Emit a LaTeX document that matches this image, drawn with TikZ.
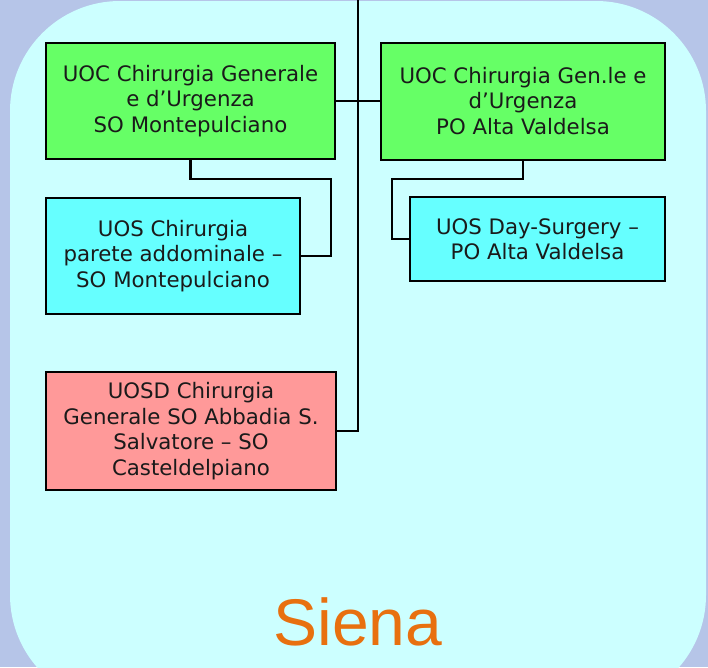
\documentclass[tikz,border=0pt]{standalone}
\usepackage{fontspec}
\setmainfont{DejaVu Sans}
\newfontfamily\sienafont{Liberation Sans}
\definecolor{lav}{HTML}{B6C5E8}
\definecolor{panel}{HTML}{CCFFFF}
\definecolor{gbox}{HTML}{66FF66}
\definecolor{cbox}{HTML}{66FFFF}
\definecolor{pbox}{HTML}{FF9999}
\definecolor{txt}{HTML}{1A1A1A}
\definecolor{orangetxt}{HTML}{E8700F}
\begin{document}
\begin{tikzpicture}[x=1pt,y=-1pt,
  unit/.style={draw=black,line width=2pt,text=txt,align=center,inner sep=0pt,
    font=\fontsize{21.3}{25.5}\selectfont},
  link/.style={draw=black,line width=2.2pt}]
\useasboundingbox (0,0) rectangle (708,667);
\fill[lav] (0,0) rectangle (708,667);
\begin{scope}
\clip (0,0) rectangle (708,667);
\fill[panel,rounded corners=110pt] (10,1) rectangle (706,705);
\end{scope}
\node[unit,fill=gbox,minimum width=289pt,minimum height=116pt] (g1) at (190.5,101) {UOC Chirurgia Generale\\e d’Urgenza\\SO Montepulciano};
\node[unit,fill=gbox,minimum width=284pt,minimum height=117pt] (g2) at (523,101) {UOC Chirurgia Gen.le e\\d’Urgenza\\PO Alta Valdelsa};
\node[unit,fill=cbox,minimum width=254pt,minimum height=116pt] (c1) at (173,256) {UOS Chirurgia\\parete addominale –\\SO Montepulciano};
\node[unit,fill=cbox,minimum width=255pt,minimum height=84pt] (c2) at (537.5,239) {UOS Day-Surgery –\\PO Alta Valdelsa};
\node[unit,fill=pbox,minimum width=290pt,minimum height=118pt] (p1) at (191,431) {UOSD Chirurgia\\Generale SO Abbadia S.\\Salvatore – SO\\Casteldelpiano};
\coordinate (top) at (358,0);
\coordinate (bend) at (358,431);
\coordinate (j1) at (331,179);
\coordinate (j2) at (392,179);
\draw[link] (top) -- (bend) -- (p1.east);
\draw[link] (g1.east) -- (g2.west);
\draw[link] (g1.south) |- (j1) |- (c1.east);
\draw[link] (g2.south) |- (j2) |- (c2.west);
\node[text=orangetxt,font=\sienafont\fontsize{66}{70}\selectfont,inner sep=0pt] (siena) at (358,622) {Siena};
\end{tikzpicture}
\end{document}
